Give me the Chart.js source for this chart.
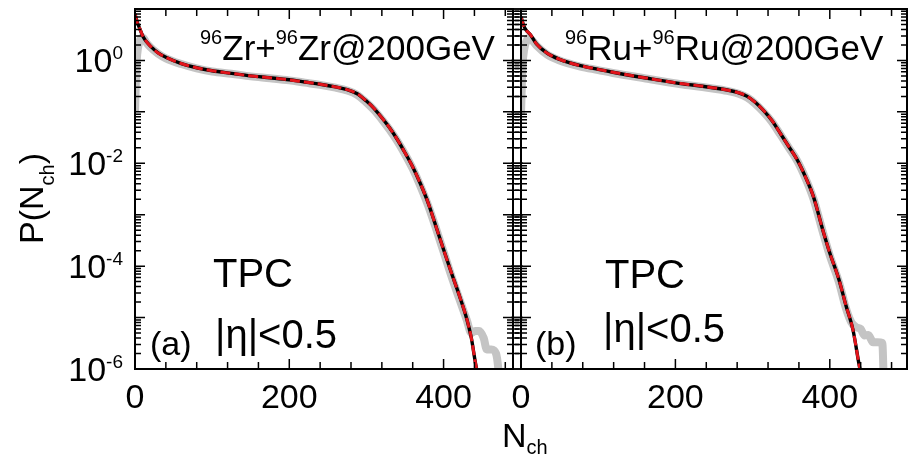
<!DOCTYPE html>
<html>
<head>
<meta charset="utf-8">
<script src="https://cdn.jsdelivr.net/npm/chart.js@4"></script>
<style>
body{margin:0;background:#fff;}
#wrap{position:relative;width:912px;height:455px;}
canvas{position:absolute;left:0;top:0;}
</style>
</head>
<body>
<div id="wrap">
<canvas id="chartA" width="912" height="455"></canvas>
<canvas id="chartB" width="912" height="455"></canvas>
</div>
<script>
// ///////////// values
// panel (a) Zr+Zr : model curve (black solid / red dashed)
const nchA = [0,3,6,10,15,20,30,40,60,80,100,125,150,175,200,220,240,260,275,288,300,310,320,330,340,350,360,370,380,390,400,410,420,430,436,441,444];
const fitA = [8.0,5.5,4.2,3.0,2.3,1.9,1.4,1.15,0.87,0.72,0.63,0.56,0.50,0.46,0.42,0.38,0.345,0.305,0.27,0.225,0.162,0.116,0.077,0.049,0.029,0.016,0.0085,0.0040,0.0017,0.0006,0.00021,7.5e-5,2.8e-5,9.5e-6,4e-6,1.4e-6,8e-7];
// panel (a) data (grey band)
const grayNchA = [0,1,2,4,7,10,14,20,30,40,60,80,100,125,150,175,200,220,240,260,275,288,300,310,320,330,340,350,360,370,380,390,400,410,420,430,436,441,446,452,456,462,468,471,473];
const grayPA = [0.1,0.35,0.9,1.8,2.6,2.8,2.3,1.8,1.35,1.1,0.85,0.70,0.61,0.55,0.49,0.45,0.41,0.37,0.335,0.295,0.26,0.215,0.152,0.108,0.071,0.045,0.027,0.015,0.0078,0.0036,0.0015,0.00055,0.00019,6.5e-5,2.4e-5,9e-6,5e-6,5.5e-6,5.5e-6,4e-6,2.4e-6,2.4e-6,2e-6,1e-6,4e-7];

// panel (b) Ru+Ru
const nchB = [0,3,6,12,20,34,50,77,100,119,164,207,235,255,270,282,293,303,314,325,336,347,358,369,379,391,400,412,421,430,438,441];
const fitB = [7.0,5.0,4.0,3.2,2.1,1.38,1.05,0.79,0.67,0.59,0.45,0.355,0.315,0.285,0.26,0.235,0.2,0.155,0.107,0.068,0.038,0.021,0.0115,0.0052,0.0022,0.0005,0.00018,5.4e-5,1.7e-5,5.8e-6,1.2e-6,7e-7];
const grayNchB = [0,1,2,4,7,10,14,20,34,50,77,100,119,164,207,235,255,270,282,293,303,314,325,336,347,358,369,379,391,400,412,421,428,434,440,445,450,456,462,468,470];
const grayPB = [0.09,0.3,0.8,1.6,2.4,2.7,2.5,1.95,1.3,1.0,0.76,0.65,0.57,0.44,0.345,0.305,0.275,0.25,0.225,0.19,0.146,0.1,0.064,0.036,0.02,0.011,0.0049,0.002,0.00046,0.00016,4.8e-5,1.5e-5,8e-6,6.5e-6,6e-6,4.5e-6,4.6e-6,3.3e-6,3.3e-6,3.2e-6,5e-7];

// ///////////// ticks
const xTicks = [0,40,80,120,160,200,240,280,320,360,400,440,480];
const xTickLabels = [0,200,400];
const yDecades = [1e-6,1e-5,1e-4,1e-3,1e-2,1e-1,1e0,1e1];
const yTickLabels = [1e0,1e-2,1e-4,1e-6];
const yTickExp = ['0','-2','-4','-6'];

const FONT = '"Liberation Sans", Arial, Helvetica, sans-serif';

// draw text pieces one after the other, [text, size, dy]
const drawRich = function(ctx, x, y, parts){
    let cx = x;
    parts.forEach((p) => {
        ctx.font = p[1] + 'px ' + FONT;
        ctx.fillText(p[0], cx, y + (p[2] || 0));
        cx += ctx.measureText(p[0]).width;
    });
    return cx;
};
const richWidth = function(ctx, parts){
    let w = 0;
    parts.forEach((p) => {
        ctx.font = p[1] + 'px ' + FONT;
        w += ctx.measureText(p[0]).width;
    });
    return w;
};

// ///////////// frame, inward ticks, labels
const framePlugin = {
    id: 'frame',
    afterDatasetsDraw(chart, args, opts){
        const ctx = chart.ctx, a = chart.chartArea;
        const xs = chart.scales.x, ys = chart.scales.y;
        ctx.save();
        ctx.strokeStyle = '#000';
        ctx.lineWidth = 2;
        ctx.strokeRect(a.left, a.top, a.right - a.left, a.bottom - a.top);
        ctx.lineWidth = 1.5;
        ctx.beginPath();
        xTicks.forEach((v) => {
            const px = xs.getPixelForValue(v);
            if(px > a.right - 2) return;
            const len = xTickLabels.includes(v) ? 10 : 7;
            ctx.moveTo(px, a.bottom); ctx.lineTo(px, a.bottom - len);
            ctx.moveTo(px, a.top); ctx.lineTo(px, a.top + len);
        });
        yDecades.forEach((d) => {
            for(let m = 1; m < 10; m++){
                const v = d * m;
                if(v > 10.001) break;
                const py = ys.getPixelForValue(v);
                const len = m == 1 ? 10 : 6;
                ctx.moveTo(a.left - opts.outL * len, py); ctx.lineTo(a.left + len, py);
                ctx.moveTo(a.right + opts.outR * len, py); ctx.lineTo(a.right - len, py);
            }
        });
        ctx.stroke();

        ctx.fillStyle = '#000';
        ctx.textBaseline = 'alphabetic';
        // x tick labels
        ctx.textAlign = 'center';
        ctx.font = '34px ' + FONT;
        xTickLabels.forEach((v) => {
            ctx.fillText(String(v), xs.getPixelForValue(v), 408);
        });
        ctx.textAlign = 'left';
        // y tick labels 10^n
        if(opts.yLabels){
            yTickLabels.forEach((v, i) => {
                const parts = [['10', 34], [yTickExp[i], 19, -13]];
                const w = richWidth(ctx, parts);
                drawRich(ctx, a.left - 12 - w, ys.getPixelForValue(v) + 12, parts);
            });
        }
        // annotations
        (opts.notes || []).forEach((n) => drawRich(ctx, n.x, n.y, n.parts));
        // axis titles
        if(opts.titles){
            ctx.save();
            ctx.translate(43, 244);
            ctx.rotate(-Math.PI / 2);
            drawRich(ctx, 0, 0, [['P(N', 34], ['ch', 20, 11], [')', 34]]);
            ctx.restore();
            drawRich(ctx, 502, 447, [['N', 34], ['ch', 20, 7]]);
        }
        ctx.restore();
    }
};

const makeSets = function(nch, fit, gNch, gP){
    const curve = nch.map((x, i) => ({x: x, y: fit[i]}));
    const common = {pointRadius: 0, fill: false, cubicInterpolationMode: 'monotone', clip: 0};
    return [
        Object.assign({label: 'fit', data: curve, borderColor: '#e3141b', borderWidth: 3, borderDash: [10, 4]}, common),
        Object.assign({label: 'model', data: curve, borderColor: '#000000', borderWidth: 3.4}, common),
        Object.assign({label: 'data', data: gNch.map((x, i) => ({x: x, y: gP[i]})), borderColor: '#c4c4c4', borderWidth: 8}, common)
    ];
};

const makeChart = function(id, sets, xMax, pad, frameOpts){
    const ctx = document.getElementById(id).getContext('2d');
    return new Chart(ctx, {
        type: 'line',
        data: {datasets: sets},
        options: {
            responsive: false,
            animation: false,
            devicePixelRatio: 1,
            events: [],
            layout: {padding: pad},
            scales: {
                x: {type: 'linear', min: 0, max: xMax, display: false},
                y: {type: 'logarithmic', min: 1e-6, max: 10, display: false}
            },
            plugins: {
                legend: {display: false},
                tooltip: {enabled: false},
                frame: frameOpts
            }
        },
        plugins: [framePlugin]
    });
};

const sup = (t) => [t, 20, -16];

makeChart('chartA', makeSets(nchA, fitA, grayNchA, grayPA), 490,
    {left: 135, right: 399, top: 9, bottom: 86},
    {outL: 0, outR: 1, yLabels: true, titles: true, notes: [
        {x: 200, y: 60, parts: [sup('96'), ['Zr+', 35], sup('96'), ['Zr@200GeV', 35]]},
        {x: 213, y: 287, parts: [['TPC', 40]]},
        {x: 215, y: 348, parts: [['|\u03b7|<0.5', 40]]},
        {x: 150, y: 355, parts: [['(a)', 34]]}
    ]});

makeChart('chartB', makeSets(nchB, fitB, grayNchB, grayPB), 500,
    {left: 521, right: 5, top: 9, bottom: 86},
    {outL: 1, outR: 0, yLabels: false, titles: false, notes: [
        {x: 565, y: 60, parts: [sup('96'), ['Ru+', 35], sup('96'), ['Ru@200GeV', 35]]},
        {x: 605, y: 288, parts: [['TPC', 40]]},
        {x: 603, y: 342, parts: [['|\u03b7|<0.5', 40]]},
        {x: 535, y: 355, parts: [['(b)', 34]]}
    ]});
</script>
</body>
</html>
